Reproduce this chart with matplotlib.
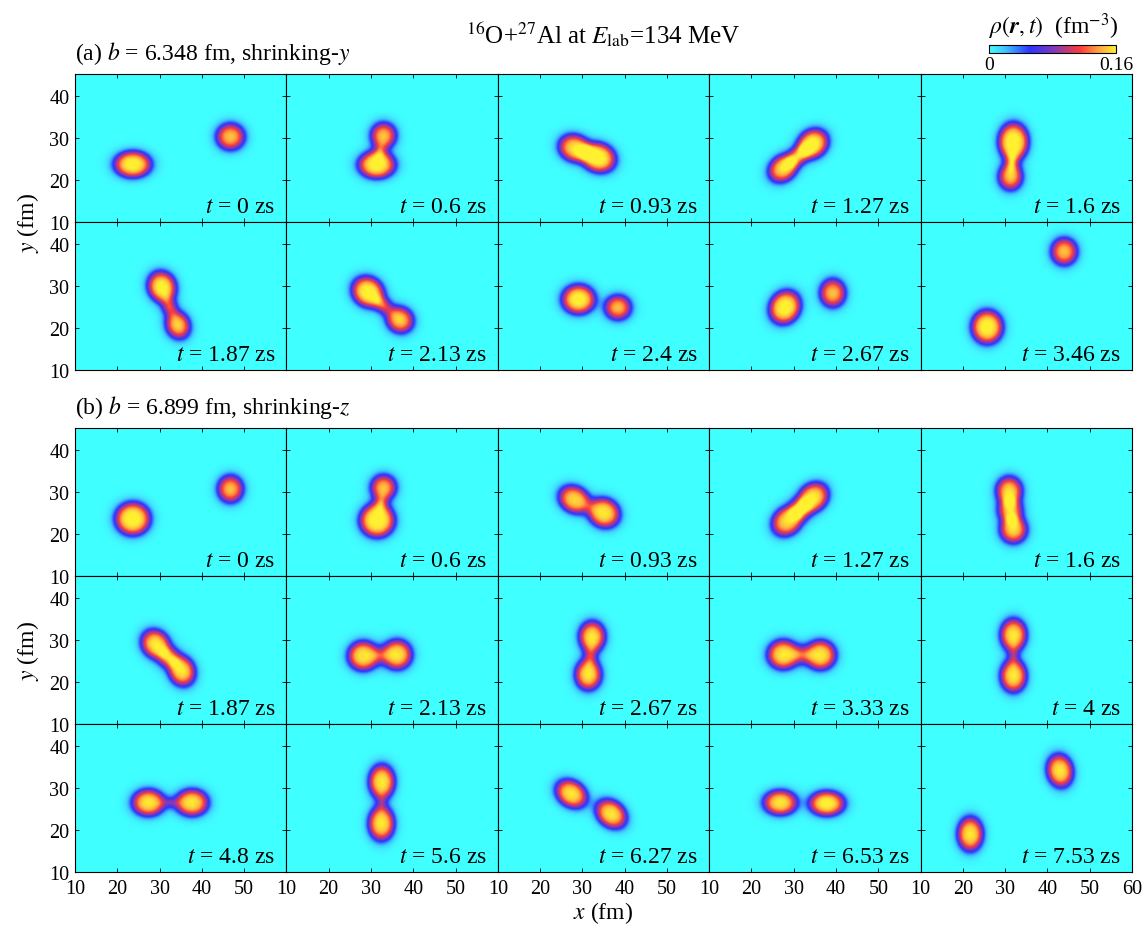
import numpy as np
import matplotlib.pyplot as plt
from matplotlib.colors import LinearSegmentedColormap

plt.rcParams['font.family'] = ['Liberation Serif', 'DejaVu Serif']
plt.rcParams['mathtext.fontset'] = 'stix'

# snapshot times (zs)
times_a = [["0", "0.6", "0.93", "1.27", "1.6"],
           ["1.87", "2.13", "2.4", "2.67", "3.46"]]
times_b = [["0", "0.6", "0.93", "1.27", "1.6"],
           ["1.87", "2.13", "2.67", "3.33", "4"],
           ["4.8", "5.6", "6.27", "6.53", "7.53"]]

# density lobes per snapshot: (x0, y0, rx, ry, angle_deg, peak)
lobes_a = [
    [(23.6, 23.7, 4.0, 2.9, 0, 0.165), (46.7, 30.3, 3.0, 2.85, 0, 0.15)],
    [(33.0, 30.6, 2.65, 2.7, 0, 0.15), (31.4, 23.6, 4.0, 3.0, 0, 0.165),
     (32.2, 27.1, 0.9, 0.9, 0, 0.08)],
    [(28.0, 27.6, 3.4, 2.9, -20, 0.155), (33.7, 25.3, 3.8, 3.2, -20, 0.165)],
    [(27.4, 22.7, 3.3, 2.7, 40, 0.155), (34.5, 28.6, 3.5, 3.0, 40, 0.165),
     (30.9, 25.6, 2.5, 1.8, 40, 0.11)],
    [(31.8, 29.1, 3.3, 4.2, 0, 0.165), (31.1, 20.7, 2.5, 2.8, 0, 0.15),
     (31.4, 24.2, 1.0, 1.3, 0, 0.09)],
    [(30.5, 29.8, 3.4, 3.0, -69, 0.165), (34.3, 20.6, 2.9, 2.5, -69, 0.155),
     (32.3, 25.0, 1.6, 1.3, -69, 0.11)],
    [(29.3, 28.6, 3.6, 3.2, -38, 0.165), (36.9, 21.9, 2.9, 2.7, -38, 0.155),
     (33.0, 25.3, 1.8, 1.4, -38, 0.11)],
    [(29.0, 26.8, 3.6, 3.2, 0, 0.165), (38.3, 24.85, 2.75, 2.6, 0, 0.15)],
    [(27.9, 24.9, 3.8, 3.3, 60, 0.165), (39.2, 28.3, 2.7, 3.0, 0, 0.15)],
    [(43.8, 38.2, 2.75, 2.9, 0, 0.15), (25.6, 20.2, 3.4, 3.7, 0, 0.165)],
]
lobes_b = [
    [(23.6, 23.6, 3.85, 3.65, 0, 0.165), (46.7, 30.7, 2.7, 2.9, 0, 0.15)],
    [(33.0, 31.1, 2.65, 2.65, 0, 0.15), (31.5, 23.2, 3.85, 3.75, 0, 0.165),
     (32.4, 27.5, 1.0, 1.0, 0, 0.09)],
    [(28.0, 28.2, 3.5, 2.85, -30, 0.155), (35.0, 25.0, 3.5, 3.15, -30, 0.16)],
    [(28.4, 23.0, 3.5, 2.95, 43, 0.155), (34.6, 28.7, 3.5, 2.95, 43, 0.16),
     (31.5, 25.85, 2.0, 2.2, 43, 0.11)],
    [(30.8, 30.3, 2.75, 3.0, 0, 0.155), (31.0, 25.6, 2.5, 2.4, 0, 0.14),
     (31.8, 21.0, 2.85, 2.9, 0, 0.155)],
    [(29.0, 29.0, 3.3, 2.9, -50, 0.16), (35.2, 22.6, 3.3, 2.8, -70, 0.16),
     (32.1, 25.8, 1.8, 2.0, -50, 0.12)],
    [(28.2, 26.2, 3.3, 3.2, 0, 0.16), (36.2, 26.5, 3.2, 3.2, 0, 0.16),
     (32.2, 26.3, 1.2, 1.6, 0, 0.05)],
    [(32.2, 30.8, 2.8, 3.3, 0, 0.16), (31.3, 21.7, 2.8, 3.3, 0, 0.16),
     (31.8, 26.2, 1.1, 1.4, 0, 0.08)],
    [(27.5, 26.5, 3.4, 3.2, 0, 0.16), (36.3, 26.4, 3.3, 3.2, 0, 0.16),
     (31.9, 26.5, 1.4, 1.7, 0, 0.08)],
    [(31.8, 31.2, 2.8, 3.5, 0, 0.16), (31.8, 21.4, 2.8, 3.5, 0, 0.16),
     (31.8, 26.3, 0.8, 1.2, 0, 0.07)],
    [(27.3, 26.5, 3.5, 2.9, 0, 0.16), (37.6, 26.5, 3.5, 2.9, 0, 0.16),
     (32.5, 26.5, 1.0, 0.7, 0, 0.07)],
    [(32.6, 31.5, 2.8, 3.7, 0, 0.16), (32.5, 21.5, 2.8, 3.7, 0, 0.16),
     (32.6, 26.5, 0.6, 0.9, 0, 0.06)],
    [(27.3, 28.6, 3.6, 2.8, -35, 0.16), (36.7, 23.8, 3.6, 2.8, -40, 0.16)],
    [(26.8, 26.5, 3.6, 2.7, 0, 0.16), (37.8, 26.3, 3.8, 2.7, 0, 0.165)],
    [(42.8, 34.1, 3.6, 2.8, 100, 0.16), (21.6, 19.0, 3.7, 2.75, 90, 0.16)],
]

XLIM = (10, 60)
YLIM = (10, 45.2)
DIFF = 0.7  # surface diffuseness (fm)

cmap = LinearSegmentedColormap.from_list("rho", [
    (0.00, "#40ffff"), (0.12, "#40c8ff"), (0.32, "#2e34ff"),
    (0.50, "#7a38c0"), (0.62, "#c03a78"), (0.72, "#ff3a3a"),
    (0.86, "#ffa040"), (1.00, "#fff030")])

xg = np.linspace(XLIM[0], XLIM[1], 501)
yg = np.linspace(YLIM[0], YLIM[1], 353)
X, Y = np.meshgrid(xg, yg)


def density(lobes):
    rho = np.zeros_like(X)
    for x0, y0, rx, ry, ang, pk in lobes:
        th = np.deg2rad(ang)
        u = (X - x0) * np.cos(th) + (Y - y0) * np.sin(th)
        v = -(X - x0) * np.sin(th) + (Y - y0) * np.cos(th)
        d = np.sqrt((u / rx) ** 2 + (v / ry) ** 2)
        rho += pk / (1 + np.exp((d - 1) * 0.5 * (rx + ry) / DIFF))
    return rho


W, H = 1143, 929
fig = plt.figure(figsize=(W / 100, H / 100), dpi=100)

PX0, PW, PH = 75, 211.4, 148


def panel(col, top, lobes, tlabel, ylabels, xlabels, last_col):
    ax = fig.add_axes([(PX0 + col * PW) / W, 1 - (top + PH) / H, PW / W, PH / H])
    im = ax.imshow(density(lobes), origin="lower", extent=[*XLIM, *YLIM],
                   cmap=cmap, vmin=0, vmax=0.16, aspect="auto",
                   interpolation="bilinear")
    ax.set_xlim(*XLIM)
    ax.set_ylim(*YLIM)
    ax.set_xticks([10, 20, 30, 40, 50, 60])
    ax.set_yticks([10, 20, 30, 40])
    ax.tick_params(direction="in", length=3, width=0.6, top=True, right=True,
                   labelsize=14.5)
    ax.tick_params(axis="x", pad=5)
    ax.tick_params(axis="y", pad=4)
    if ylabels:
        ax.set_yticklabels(["10", "20", "30", "40"])
    else:
        ax.set_yticklabels([])
    if xlabels:
        labs = ["10", "20", "30", "40", "50", "60" if last_col else ""]
        ax.set_xticklabels(labs)
    else:
        ax.set_xticklabels([])
    for s in ax.spines.values():
        s.set_linewidth(0.8)
    ax.text(0.948, 0.07, r"$t$ = %s zs" % tlabel, transform=ax.transAxes,
            ha="right", va="baseline", fontsize=17)
    return im


tops_a = [75, 223]
tops_b = [429, 577, 725]

for r, top in enumerate(tops_a):
    for c in range(5):
        im = panel(c, top, lobes_a[r * 5 + c], times_a[r][c], c == 0, False, c == 4)

for r, top in enumerate(tops_b):
    for c in range(5):
        im = panel(c, top, lobes_b[r * 5 + c], times_b[r][c], c == 0, r == 2, c == 4)

# headings
fig.text(603 / W, 1 - 35 / H, r"$^{16}$O+$^{27}$Al at $E_{\rm lab}$=134 MeV",
         ha="center", va="center", fontsize=18)
fig.text(PX0 / W, 1 - 60 / H, r"(a) $b$ = 6.348 fm, shrinking-$y$",
         ha="left", va="baseline", fontsize=17)
fig.text(PX0 / W, 1 - 414 / H, r"(b) $b$ = 6.899 fm, shrinking-$z$",
         ha="left", va="baseline", fontsize=17)
fig.text(28 / W, 1 - 223 / H, r"$y$ (fm)", rotation=90, ha="center",
         va="center", fontsize=17)
fig.text(28 / W, 1 - 651 / H, r"$y$ (fm)", rotation=90, ha="center",
         va="center", fontsize=17)
fig.text(603 / W, 1 - 913 / H, r"$x$ (fm)", ha="center", va="center",
         fontsize=17)

# colour bar
cax = fig.add_axes([989 / W, 1 - 54 / H, 127 / W, 8 / H])
cb = fig.colorbar(im, cax=cax, orientation="horizontal", ticks=[0, 0.16])
cb.ax.set_xticklabels(["0", "0.16"])
cb.ax.tick_params(length=0, labelsize=14, pad=2)
cb.outline.set_linewidth(0.8)
fig.text(1054 / W, 1 - 27 / H, r"$\rho(\boldsymbol{r},t)$  (fm$^{-3}$)",
         ha="center", va="center", fontsize=17)

fig.savefig("out.png", dpi=100)
